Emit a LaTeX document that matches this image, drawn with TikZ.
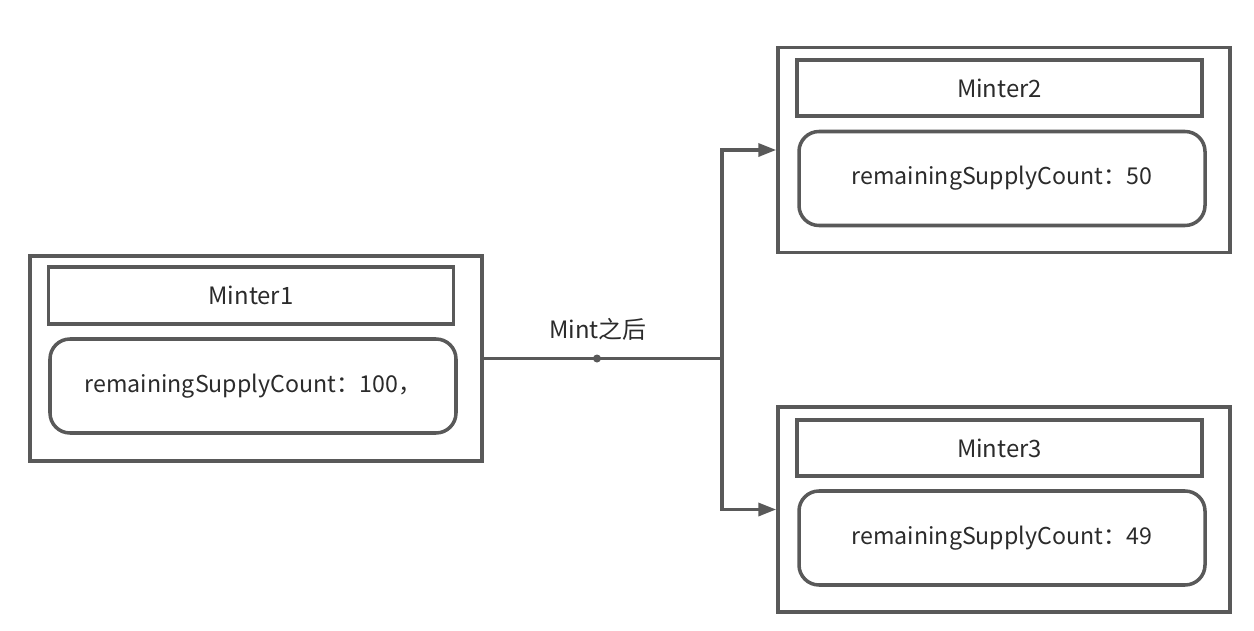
\documentclass[tikz,border=0pt]{standalone}
\usepackage{fontspec}
\setmainfont{Noto Sans CJK SC}
\usepackage{tikz}
\usetikzlibrary{arrows.meta}
\definecolor{linegray}{HTML}{595959}
\definecolor{textgray}{HTML}{2B2B2B}

\begin{document}
\begin{tikzpicture}[line width=2pt, color=linegray,
		outerbox/.style={draw, minimum width=9.04cm, minimum height=4.1cm},
		headbox/.style={draw, minimum width=8.1cm, minimum height=1.13cm, text=textgray, font=\fontsize{13.6}{16}\selectfont},
		countbox/.style={draw, rounded corners=0.4cm, minimum width=8.12cm, minimum height=1.88cm, text=textgray, font=\fontsize{13.2}{16}\selectfont}]
				\useasboundingbox (0,0) rectangle (25.08,12.6);

				\node[outerbox] (m1) at (5.12,5.43) {};
				\node[headbox] (h1) at (5.02,6.69) {Minter1};
				\node[countbox] (c1) at (5.06,4.88) {remainingSupplyCount：100，};

				\node[outerbox] (m2) at (20.08,9.6) {};
				\node[headbox] (h2) at (19.99,10.84) {Minter2};
				\node[countbox] (c2) at (20.04,9.03) {remainingSupplyCount：50};

				\node[outerbox] (m3) at (20.08,2.41) {};
				\node[headbox] (h3) at (19.99,3.64) {Minter3};
				\node[countbox] (c3) at (20.04,1.84) {remainingSupplyCount：49};

				\coordinate (split) at (14.44,5.43);
				\coordinate (mid) at (11.94,5.43);
				\node[text=textgray, font=\fontsize{13.6}{16}\selectfont] (lbl) at (11.96,6.02) {Mint之后};

				\draw (m1) -- (split);
				\fill (mid) circle (0.08);
				\draw[-{Triangle[length=0.36cm,width=0.26cm]}] (split) |- (m2);
				\draw[-{Triangle[length=0.36cm,width=0.26cm]}] (split) |- (m3);
			\end{tikzpicture}
\end{document}
